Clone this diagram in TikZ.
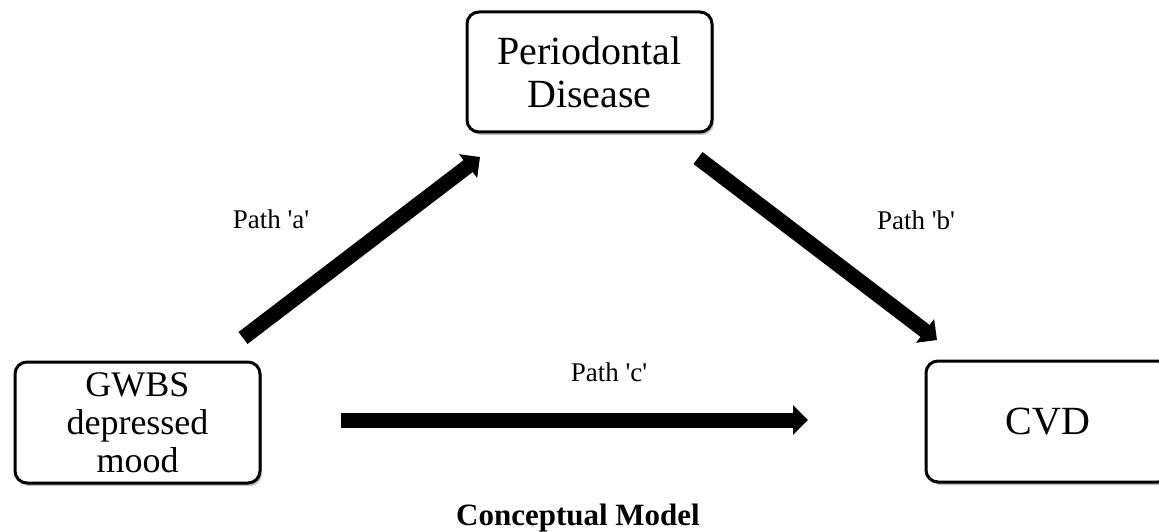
\documentclass[tikz,border=0pt]{standalone}
\usepackage{fontspec}
\setmainfont{Liberation Serif}[Ligatures=TeXOff]
\usetikzlibrary{arrows.meta,shadows}
\begin{document}
\begin{tikzpicture}[x=1pt,y=-1pt,
  box/.style={draw=black, line width=3pt, rounded corners=12pt, fill=white,
    minimum width=245pt, align=center, inner sep=0pt,
    drop shadow={shadow xshift=2pt, shadow yshift=-3pt, opacity=0.25, fill=black}},
  bigarrow/.style={line width=15pt, -{Triangle[width=29pt,length=15pt]}},
  pathlabel/.style={font=\fontsize{27}{30}\selectfont, inner sep=0pt, anchor=base}
]
\useasboundingbox (0,0) rectangle (1159,532);
\node[box, minimum height=120pt, font=\fontsize{40}{43}\selectfont] (pd) at (589.5,72) {Periodontal\\Disease};
\node[box, minimum height=121pt, font=\fontsize{36}{38}\selectfont] (gw) at (137.5,422.5) {GWBS\\depressed\\mood};
\node[box, minimum height=121pt, minimum width=244pt, font=\fontsize{40}{43}\selectfont] (cvd) at (1048,421.5) {CVD};
\coordinate (a0) at (243,338);
\coordinate (a1) at (480,157);
\coordinate (b0) at (698,158);
\coordinate (b1) at (937,340);
\coordinate (c0) at (341,420);
\coordinate (c1) at (808,420);
\draw[bigarrow] (a0) -- (a1);
\draw[bigarrow] (b0) -- (b1);
\draw[bigarrow] (c0) -- (c1);
\node[pathlabel] (la) at (271,228) {Path 'a'};
\node[pathlabel] (lb) at (916,229) {Path 'b'};
\node[pathlabel] (lc) at (609,381) {Path 'c'};
\node[font=\fontsize{31}{34}\selectfont\bfseries, inner sep=0pt, anchor=base] (title) at (578,525) {Conceptual Model};
\end{tikzpicture}
\end{document}
